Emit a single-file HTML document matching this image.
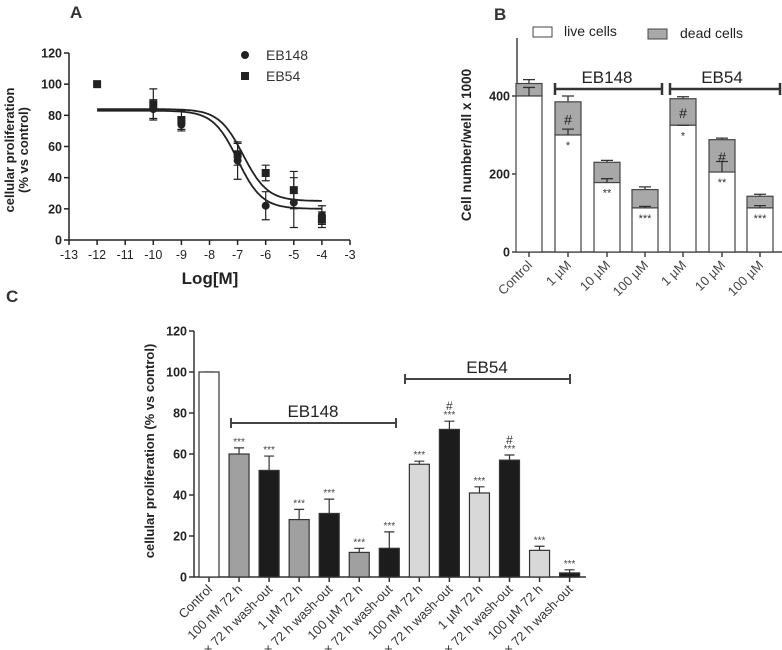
<!DOCTYPE html>
<html><head><meta charset="utf-8"><style>
html,body{margin:0;padding:0;background:#fff;}
svg{display:block;font-family:"Liberation Sans",sans-serif;}
</style></head><body>
<svg id="fig" width="782" height="650" viewBox="0 0 782 650" xmlns="http://www.w3.org/2000/svg">
<g id="pa"></g>
<g id="pb"></g>
<g id="pc"></g>
</svg>
<script>
// ---- Panel A data ----
const aXTicks = [-13,-12,-11,-10,-9,-8,-7,-6,-5,-4,-3];
const aYTicks = [0,20,40,60,80,100,120];
const aLogX148 = [-10,-9,-7,-6,-5,-4];
const aVal148 = [84,74,51,22,24,16];
const aErr148 = [6,4,12,9,16,6];
const aLogX54 = [-12,-10,-9,-7,-6,-5,-4];
const aVal54 = [100,87,77,55,43,32,13];
const aErr54 = [0,10,6,7,5,12,5];
const aFit148 = [83,20,-7.0,1]; // top,bottom,logEC50,hill
const aFit54 = [84,25,-6.8,1];
// ---- Panel B data ----
const bCats = ["Control","1 µM","10 µM","100 µM","1 µM","10 µM","100 µM"];
const bLive = [400,300,178,113,325,205,113];
const bTotal = [432,385,230,160,393,288,143];
const bLiveErr = [22,15,10,4,0,27,6];
const bTotalErr = [10,15,5,7,5,4,5];
const bLiveMark = ["","*","**","***","*","**","***"];
const bDeadMark = ["","#","","","#","#",""];
const bYTicks = [0,200,400];
// ---- Panel C data ----
const cCats = ["Control","100 nM 72 h","× 72 h wash-out","1 µM 72 h","× 72 h wash-out","100 µM 72 h","× 72 h wash-out","100 nM 72 h","× 72 h wash-out","1 µM 72 h","× 72 h wash-out","100 µM 72 h","× 72 h wash-out"];
const cVals = [100,60,52,28,31,12,14,55,72,41,57,13,2];
const cErrs = [0,3,7,5,7,2,8,1.5,4,3,2.5,2,1.5];
const cMarks = ["","***","***","***","***","***","***","***","***","***","***","***","***"];
const cHash = ["","","","","","","","","#","","#","",""];
const cYTicks = [0,20,40,60,80,100,120];

const NS="http://www.w3.org/2000/svg";
function mk(parent,tag,attrs,text){const e=document.createElementNS(NS,tag);for(const k in attrs)e.setAttribute(k,attrs[k]);if(text!==undefined)e.textContent=text;parent.appendChild(e);return e;}

// ===== Panel A =====
(function(){
const g=document.getElementById('pa');
const x0=69,x1=350,y0=240,y1=53;
const xs=v=>x0+(v+13)/10*(x1-x0);
const ys=v=>y0-v/120*(y0-y1);
let t=mk(g,'text',{x:70,y:18,'font-size':17,'font-weight':'bold',fill:'#333'},'A');

let ax=mk(g,'path',{d:`M${x0},${y1}V${y0}H${x1}`,stroke:'#222','stroke-width':1.5,fill:'none'});

aYTicks.forEach(v=>{mk(g,'line',{x1:x0-5,x2:x0,y1:ys(v),y2:ys(v),stroke:'#222','stroke-width':1.5});
 const l=mk(g,'text',{x:x0-7,y:ys(v)+4.5,'text-anchor':'end','font-size':12.5,'font-weight':'bold',fill:'#222'},v);
 });
aXTicks.forEach(v=>{mk(g,'line',{x1:xs(v),x2:xs(v),y1:y0,y2:y0+5,stroke:'#222','stroke-width':1.5});
 const l=mk(g,'text',{x:xs(v),y:y0+19,'text-anchor':'middle','font-size':12.5,fill:'#222'},v);
 });
t=mk(g,'text',{x:210,y:284,'text-anchor':'middle','font-size':17,'font-weight':'bold',fill:'#222'},'Log[M]');

t=mk(g,'text',{transform:'translate(14,150) rotate(-90)','text-anchor':'middle','font-size':13,'font-weight':'bold',fill:'#222'},'cellular proliferation');

t=mk(g,'text',{transform:'translate(28,150) rotate(-90)','text-anchor':'middle','font-size':13,'font-weight':'bold',fill:'#222'},'(% vs control)');

function curve(p,name){let d='';for(let i=0;i<=200;i++){const x=-12+8*i/200;const y=p[1]+(p[0]-p[1])/(1+Math.pow(10,(x-p[2])*p[3]));d+=(i?'L':'M')+xs(x).toFixed(1)+','+ys(y).toFixed(1);}
 const e=mk(g,'path',{d:d,stroke:'#222','stroke-width':1.8,fill:'none'});}
curve(aFit148,'fit-curve-eb148');curve(aFit54,'fit-curve-eb54');
function errs(X,V,E){X.forEach((x,i)=>{if(!E[i])return;const cx=xs(x);mk(g,'path',{d:`M${cx},${ys(V[i]-E[i])}V${ys(V[i]+E[i])}M${cx-4},${ys(V[i]-E[i])}H${cx+4}M${cx-4},${ys(V[i]+E[i])}H${cx+4}`,stroke:'#222','stroke-width':1.2,fill:'none'});});}
errs(aLogX148,aVal148,aErr148);errs(aLogX54,aVal54,aErr54);
aLogX148.forEach((x,i)=>{const c=mk(g,'circle',{cx:xs(x),cy:ys(aVal148[i]),r:4,fill:'#222'});});
aLogX54.forEach((x,i)=>{const c=mk(g,'rect',{x:xs(x)-4,y:ys(aVal54[i])-4,width:8,height:8,fill:'#222'});});
let lg=mk(g,'g',{});
mk(lg,'circle',{cx:245,cy:55,r:4,fill:'#222'});mk(lg,'text',{x:266,y:60,'font-size':14,fill:'#333'},'EB148');
mk(lg,'rect',{x:241,y:72,width:8,height:8,fill:'#222'});mk(lg,'text',{x:266,y:81,'font-size':14,fill:'#333'},'EB54');
})();

// ===== Panel B =====
(function(){
const g=document.getElementById('pb');
const x0=517,x1=782,y0=252,ytop=38;
const ys=v=>y0-v/200*78;
const cx=[529,568,607,645,683,722,760];const bw=26;
let t=mk(g,'text',{x:494,y:20,'font-size':17,'font-weight':'bold',fill:'#333'},'B');

let ax=mk(g,'path',{d:`M${x0},${ytop}V${y0}H${x1}`,stroke:'#444','stroke-width':1.5,fill:'none'});

bYTicks.forEach(v=>{mk(g,'line',{x1:x0-5,x2:x0,y1:ys(v),y2:ys(v),stroke:'#444','stroke-width':1.5});
 const l=mk(g,'text',{x:x0-7,y:ys(v)+4.5,'text-anchor':'end','font-size':12.5,'font-weight':'bold',fill:'#222'},v);
 });
t=mk(g,'text',{transform:'translate(471,145) rotate(-90)','text-anchor':'middle','font-size':13.5,'font-weight':'bold',fill:'#222'},'Cell number/well x 1000');

bCats.forEach((c,i)=>{
 const x=cx[i];
 mk(g,'path',{d:`M${x},${ys(bTotal[i])}V${ys(bTotal[i]+bTotalErr[i])}M${x-6},${ys(bTotal[i]+bTotalErr[i])}H${x+6}`,stroke:'#333','stroke-width':1.3,fill:'none'});
 let r=mk(g,'rect',{x:x-bw/2,y:ys(bTotal[i]),width:bw,height:ys(bLive[i])-ys(bTotal[i]),fill:'#a8a8a8',stroke:'#444','stroke-width':1.2});
 
 r=mk(g,'rect',{x:x-bw/2,y:ys(bLive[i]),width:bw,height:y0-ys(bLive[i]),fill:'#fff',stroke:'#444','stroke-width':1.2});
 
 mk(g,'path',{d:`M${x},${ys(bLive[i])}V${ys(bLive[i]+bLiveErr[i])}M${x-6},${ys(bLive[i]+bLiveErr[i])}H${x+6}`,stroke:'#333','stroke-width':1.3,fill:'none'});
 if(bLiveMark[i])mk(g,'text',{x:x,y:ys(bLive[i])+14,'text-anchor':'middle','font-size':11,fill:'#333'},bLiveMark[i]);
 if(bDeadMark[i])mk(g,'text',{x:x,y:(ys(bLive[i])+ys(bTotal[i]))/2+6,'text-anchor':'middle','font-size':14,fill:'#222'},bDeadMark[i]);
 mk(g,'line',{x1:x,x2:x,y1:y0,y2:y0+5,stroke:'#444','stroke-width':1.5});
 const l=mk(g,'text',{transform:`translate(${x+4},${y0+14}) rotate(-45)`,'text-anchor':'end','font-size':13,fill:'#444'},c);
 
});
function bracket(a,b,y,txt,tx,name){const e=mk(g,'path',{d:`M${a},${y}H${b}M${a},${y-6}V${y+6}M${b},${y-6}V${y+6}`,stroke:'#333','stroke-width':2.5,fill:'none'});
 
 mk(g,'text',{x:tx,y:y-6,'text-anchor':'middle','font-size':17,fill:'#222'},txt);}
bracket(555,662,89,'EB148',607,'bracket-eb148');bracket(670,780,89,'EB54',722,'bracket-eb54');
let lg=mk(g,'g',{});
mk(lg,'rect',{x:533,y:27,width:19,height:10,fill:'#fff',stroke:'#444','stroke-width':1});
mk(lg,'text',{x:564,y:36,'font-size':14,fill:'#222'},'live cells');
mk(lg,'rect',{x:648,y:29,width:19,height:10,fill:'#a8a8a8',stroke:'#444','stroke-width':1});
mk(lg,'text',{x:680,y:38,'font-size':14,fill:'#222'},'dead cells');
})();

// ===== Panel C =====
(function(){
const g=document.getElementById('pc');
const x0=194,x1=586,y0=577,y1=331;
const ys=v=>y0-v/120*(y0-y1);
const cx0=209,step=30.05,bw=20;
const fills=i=>i===0?'#fff':(i%2===0?'#1c1c1c':(i<7?'#a0a0a0':'#d8d8d8'));
let t=mk(g,'text',{x:6,y:302,'font-size':17,'font-weight':'bold',fill:'#333'},'C');

let ax=mk(g,'path',{d:`M${x0},${y1}V${y0}H${x1}`,stroke:'#333','stroke-width':1.5,fill:'none'});

cYTicks.forEach(v=>{mk(g,'line',{x1:x0-5,x2:x0,y1:ys(v),y2:ys(v),stroke:'#333','stroke-width':1.5});
 const l=mk(g,'text',{x:x0-7,y:ys(v)+4.5,'text-anchor':'end','font-size':12.5,'font-weight':'bold',fill:'#222'},v);
 });
t=mk(g,'text',{transform:'translate(154,451) rotate(-90)','text-anchor':'middle','font-size':13,'font-weight':'bold',fill:'#222'},'cellular proliferation (% vs control)');

cCats.forEach((c,i)=>{
 const x=cx0+i*step;const v=cVals[i],e=cErrs[i];
 mk(g,'path',{d:`M${x},${ys(v)}V${ys(v+e)}M${x-5},${ys(v+e)}H${x+5}`,stroke:'#333','stroke-width':1.2,fill:'none'});
 const r=mk(g,'rect',{x:x-bw/2,y:ys(v),width:bw,height:y0-ys(v),fill:fills(i),stroke:'#333','stroke-width':1.2});
 
 if(cMarks[i])mk(g,'text',{x:x,y:ys(v+e)-3,'text-anchor':'middle','font-size':10,fill:'#444'},cMarks[i]);
 if(cHash[i])mk(g,'text',{x:x,y:ys(v+e)-11,'text-anchor':'middle','font-size':12,fill:'#333'},cHash[i]);
 mk(g,'line',{x1:x,x2:x,y1:y0,y2:y0+5,stroke:'#333','stroke-width':1.5});
 const l=mk(g,'text',{transform:`translate(${x+4},${y0+13}) rotate(-45)`,'text-anchor':'end','font-size':12.8,fill:'#333'},c);
 
});
function bracket(a,b,y,txt,tx,name){const e=mk(g,'path',{d:`M${a},${y}H${b}M${a},${y-5}V${y+5}M${b},${y-5}V${y+5}`,stroke:'#444','stroke-width':2,fill:'none'});
 
 mk(g,'text',{x:tx,y:y-6,'text-anchor':'middle','font-size':17,fill:'#222'},txt);}
bracket(231,396,423,'EB148',313,'bracket-eb148');bracket(405,570,379,'EB54',487,'bracket-eb54');
})();
</script>
</body></html>
